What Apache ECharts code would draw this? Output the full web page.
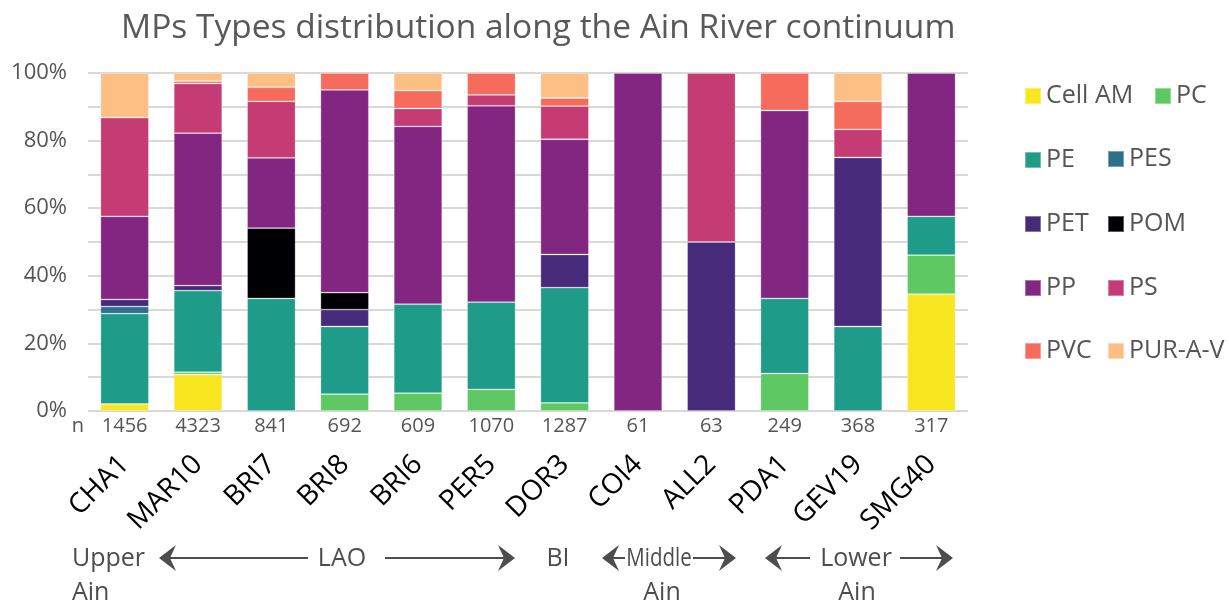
<!DOCTYPE html>
<html>
<head>
<meta charset="utf-8">
<script src="https://cdn.jsdelivr.net/npm/echarts@6/dist/echarts.min.js"></script>
<style>
  html, body { margin: 0; padding: 0; background: #fff; }
  #chart { width: 1229px; height: 604px; }
</style>
</head>
<body>
<div id="chart"></div>
<script>
// Sampling sites from upstream to downstream, and number of particles per site
const sites = ['CHA1', 'MAR10', 'BRI7', 'BRI8', 'BRI6', 'PER5', 'DOR3', 'COI4', 'ALL2', 'PDA1', 'GEV19', 'SMG40'];
const counts = [1456, 4323, 841, 692, 609, 1070, 1287, 61, 63, 249, 368, 317];

// Share (%) of each polymer type at each site
const cellAM = [2.1, 10.8, 0, 0, 0, 0, 0, 0, 0, 0, 0, 34.6];
const pc     = [0, 0.7, 0, 5.0, 5.3, 6.4, 2.4, 0, 0, 11.1, 0, 11.5];
const pe     = [26.7, 24.1, 33.3, 20.0, 26.3, 25.8, 34.1, 0, 0, 22.2, 25.0, 11.5];
const pes    = [2.1, 0, 0, 0, 0, 0, 0, 0, 0, 0, 0, 0];
const pet    = [2.1, 1.5, 0, 5.0, 0, 0, 9.8, 0, 50.0, 0, 50.0, 0];
const pom    = [0, 0, 20.8, 5.0, 0, 0, 0, 0, 0, 0, 0, 0];
const pp     = [24.6, 45.1, 20.8, 60.0, 52.6, 58.1, 34.1, 100, 0, 55.6, 0, 42.4];
const ps     = [29.2, 14.7, 16.7, 0, 5.3, 3.2, 9.8, 0, 50.0, 0, 8.3, 0];
const pvc    = [0, 0.7, 4.2, 5.0, 5.3, 6.5, 2.4, 0, 0, 11.1, 8.3, 0];
const purAV  = [13.2, 2.4, 4.2, 0, 5.2, 0, 7.4, 0, 0, 0, 8.4, 0];

const typeNames = ['Cell AM', 'PC', 'PE', 'PES', 'PET', 'POM', 'PP', 'PS', 'PVC', 'PUR-A-V'];
const typeShares = [cellAM, pc, pe, pes, pet, pom, pp, ps, pvc, purAV];
const typeColors = ['#f8e621', '#5ec962', '#1f9b8a', '#2e6f8e', '#472a79', '#000004', '#832681', '#c43c73', '#f66c5c', '#fdbf84'];

// Y-axis ticks every 10 %, labelled every 20 %
const yTickStep = 10;
const yLabelStep = 20;

const textGrey = '#555555';
const font = '"Open Sans", "Noto Sans", sans-serif';

const series = typeNames.map((name, i) => ({
  name: name,
  type: 'bar',
  stack: 'share',
  xAxisIndex: 0,
  barCategoryGap: '34%',
  itemStyle: { color: typeColors[i], borderColor: 'rgba(255,255,255,0.35)', borderWidth: 0.8 },
  emphasis: { disabled: true },
  data: typeShares[i].map(v => (v > 0 ? v : null))
}));

// Legend laid out as a two-column block, one component per entry
const legendSlots = [
  [1024, 88], [1154, 88],
  [1024, 152], [1107, 151],
  [1024, 216], [1107, 216],
  [1024, 280], [1107, 280],
  [1024, 343], [1107, 343]
];
const legends = typeNames.map((name, i) => ({
  data: [name],
  left: legendSlots[i][0],
  top: legendSlots[i][1] - 5,
  padding: 0,
  itemWidth: 16,
  itemHeight: 16,
  icon: 'rect',
  selectedMode: false,
  textStyle: { fontSize: 25, color: textGrey, fontFamily: font, lineHeight: 26 }
}));

// River section annotations below the site names
const annColor = '#4d4d4d';
function arrow(from, tip, y) {
  const dir = tip > from ? -1 : 1;
  return [
    { type: 'line', silent: true, shape: { x1: from, y1: y, x2: tip + dir * 8, y2: y },
      style: { stroke: annColor, lineWidth: 2 } },
    { type: 'polygon', silent: true,
      shape: { points: [[tip, y], [tip + dir * 17, y - 13], [tip + dir * 11, y], [tip + dir * 17, y + 13]] },
      style: { fill: annColor } }
  ];
}
function label(text, x, y, align, squeeze) {
  return { type: 'text', silent: true, x: x, y: y, scaleX: squeeze || 1,
    style: { text: text, fill: annColor, font: '25px ' + font, textAlign: align, textVerticalAlign: 'middle' } };
}
const line1 = 559, line2 = 593, arrowY = 558;
const annotations = [
  label('Upper', 72, line1, 'left'), label('Ain', 72, line2, 'left'),
  ...arrow(308, 159, arrowY),
  label('LAO', 342, line1, 'center'),
  ...arrow(385, 515, arrowY),
  label('BI', 558, line1, 'center'),
  ...arrow(625, 602, arrowY),
  label('Middle', 659, line1, 'center', 0.82), label('Ain', 662, line2, 'center'),
  ...arrow(693, 736, arrowY),
  ...arrow(810, 765, arrowY),
  label('Lower', 856, line1, 'center'), label('Ain', 857, line2, 'center'),
  ...arrow(900, 953, arrowY),
  { type: 'text', silent: true, x: 78, y: 426,
    style: { text: 'n', fill: textGrey, font: '20px ' + font, textAlign: 'center', textVerticalAlign: 'middle' } }
];

const chart = echarts.init(document.getElementById('chart'), null, { renderer: 'canvas' });
chart.setOption({
  animation: false,
  backgroundColor: '#ffffff',
  textStyle: { fontFamily: font },
  title: {
    text: 'MPs Types distribution along the Ain River continuum',
    left: 121,
    top: 11,
    padding: 0,
    textStyle: { fontSize: 33.5, fontWeight: 'normal', color: '#595959', fontFamily: font }
  },
  legend: legends,
  grid: { left: 88, top: 73, width: 880, height: 338, containLabel: false },
  xAxis: [
    {
      type: 'category',
      data: sites,
      position: 'bottom',
      axisLine: { show: false },
      axisTick: { show: false },
      axisLabel: { rotate: 45, margin: 49, fontSize: 28, color: '#000000', fontFamily: font, interval: 0 }
    },
    {
      type: 'category',
      data: counts.map(String),
      position: 'bottom',
      axisLine: { show: false },
      axisTick: { show: false },
      axisLabel: { margin: 5, fontSize: 20, color: textGrey, fontFamily: font, interval: 0 }
    }
  ],
  yAxis: {
    type: 'value',
    min: 0,
    max: 100,
    interval: yTickStep,
    axisLine: { show: false },
    axisTick: { show: false },
    splitLine: { show: true, lineStyle: { color: '#d9d9d9', width: 2 } },
    axisLabel: {
      margin: 21,
      fontSize: 22,
      color: textGrey,
      fontFamily: font,
      formatter: v => (v % yLabelStep === 0 ? v + '%' : '')
    }
  },
  series: series,
  graphic: annotations
});
</script>
</body>
</html>
